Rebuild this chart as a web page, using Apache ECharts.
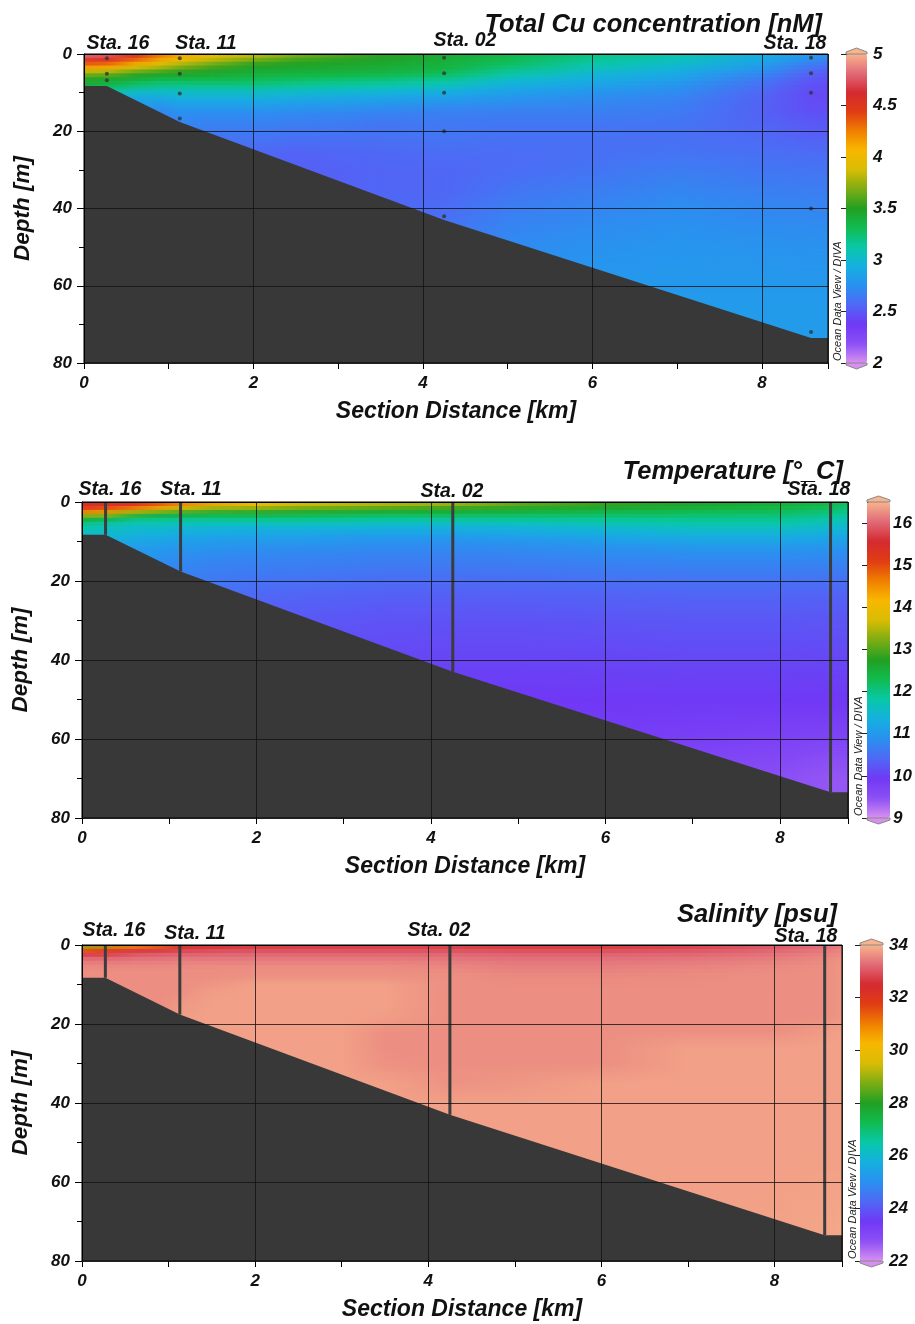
<!DOCTYPE html>
<html>
<head>
<meta charset="utf-8">
<script src="https://cdn.jsdelivr.net/npm/echarts@6/dist/echarts.min.js"></script>
<style>
html,body{margin:0;padding:0;background:#fff;}
#main{width:915px;height:1324px;}
</style>
</head>
<body>
<div id="main"></div>
<script>
// stations along the section
var stationNames = ['Sta. 16', 'Sta. 11', 'Sta. 02', 'Sta. 18'];
var stationKm = [0.27, 1.13, 4.25, 8.58];
var stationBottom = [8.3, 17.6, 43, 73.5];
// sample depths at each station (Cu panel dots)
var sampleDepths = [[1.1, 5.1, 6.8], [1.1, 5.1, 10.2, 16.7], [1, 5, 10, 20, 42], [1, 5, 10, 40, 72]];
// bottom profile
var bottomKm = [0, 0.27, 1.13, 4.25, 8.58, 8.78];
var bottomDepth = [8.3, 8.3, 17.6, 43, 73.5, 73.5];

var gridKm = [0, 0.27, 0.6, 0.9, 1.13, 1.5, 2, 2.5, 3, 3.5, 4.25, 5, 6, 7, 8, 8.58, 8.78];
var gridDepth = [0, 1, 2, 3, 4, 5, 6, 7, 8, 10, 12, 15, 18, 22, 26, 30, 35, 40, 50, 60, 70, 75];

var cuRows = [
    [4.85,4.8,4.5,4.3,4.15,4.0,3.85,3.7,3.6,3.52,3.42,3.35,3.2,3.1,2.92,2.8,2.76],
    [4.7,4.65,4.45,4.2,4.05,3.9,3.75,3.62,3.55,3.5,3.42,3.33,3.18,3.08,2.9,2.76,2.72],
    [4.5,4.45,4.2,4.0,3.9,3.75,3.6,3.52,3.48,3.46,3.4,3.3,3.15,3.04,2.86,2.7,2.66],
    [4.25,4.2,4.0,3.85,3.75,3.62,3.5,3.47,3.45,3.43,3.38,3.26,3.1,3.0,2.82,2.64,2.6],
    [4.0,3.98,3.8,3.7,3.6,3.52,3.45,3.43,3.42,3.4,3.35,3.2,3.05,2.95,2.77,2.58,2.55],
    [3.75,3.72,3.55,3.5,3.5,3.45,3.4,3.38,3.37,3.35,3.3,3.14,3.0,2.9,2.72,2.54,2.51],
    [3.55,3.52,3.45,3.4,3.4,3.38,3.35,3.32,3.3,3.28,3.22,3.07,2.95,2.86,2.67,2.51,2.49],
    [3.45,3.42,3.35,3.3,3.3,3.3,3.28,3.25,3.22,3.2,3.14,3.0,2.9,2.82,2.63,2.49,2.47],
    [3.4,3.35,3.25,3.2,3.2,3.2,3.2,3.17,3.14,3.12,3.06,2.94,2.86,2.78,2.6,2.47,2.46],
    [3.4,3.1,3.0,3.0,3.02,3.02,3.02,3.0,2.98,2.96,2.92,2.84,2.78,2.72,2.56,2.45,2.44],
    [3.4,2.95,2.85,2.85,2.9,2.9,2.9,2.88,2.86,2.84,2.8,2.76,2.72,2.68,2.54,2.45,2.44],
    [3.4,2.95,2.85,2.7,2.75,2.75,2.75,2.73,2.72,2.7,2.68,2.67,2.67,2.65,2.54,2.47,2.47],
    [3.4,2.95,2.85,2.7,2.7,2.68,2.68,2.66,2.65,2.63,2.64,2.63,2.63,2.62,2.55,2.5,2.5],
    [3.4,2.95,2.85,2.7,2.7,2.62,2.62,2.6,2.6,2.6,2.62,2.6,2.6,2.6,2.57,2.54,2.54],
    [3.4,2.95,2.85,2.7,2.7,2.62,2.56,2.54,2.55,2.56,2.58,2.58,2.6,2.62,2.6,2.58,2.58],
    [3.4,2.95,2.85,2.7,2.7,2.62,2.56,2.53,2.54,2.55,2.56,2.58,2.62,2.66,2.63,2.62,2.62],
    [3.4,2.95,2.85,2.7,2.7,2.62,2.56,2.53,2.54,2.55,2.56,2.62,2.66,2.7,2.67,2.66,2.66],
    [3.4,2.95,2.85,2.7,2.7,2.62,2.56,2.53,2.54,2.56,2.58,2.66,2.7,2.74,2.71,2.7,2.7],
    [3.4,2.95,2.85,2.7,2.7,2.62,2.56,2.53,2.54,2.56,2.66,2.72,2.76,2.78,2.77,2.76,2.76],
    [3.4,2.95,2.85,2.7,2.7,2.62,2.56,2.53,2.54,2.56,2.66,2.76,2.8,2.8,2.8,2.8,2.8],
    [3.4,2.95,2.85,2.7,2.7,2.62,2.56,2.53,2.54,2.56,2.66,2.76,2.8,2.82,2.82,2.82,2.82],
    [3.4,2.95,2.85,2.7,2.7,2.62,2.56,2.53,2.54,2.56,2.66,2.76,2.8,2.82,2.82,2.82,2.82]
];

var tempRows = [
    [15.5,15.5,15.4,15.2,14.9,14.5,14.1,13.9,13.7,13.6,13.6,13.2,12.9,12.7,12.5,12.4,12.2],
    [15.4,15.3,15.1,14.6,14.2,13.8,13.7,13.5,13.4,13.3,13.1,12.9,12.75,12.6,12.45,12.3,12.1],
    [15.0,14.8,14.2,13.7,13.4,13.1,13.0,12.9,12.85,12.8,12.7,12.6,12.5,12.4,12.3,12.15,12.0],
    [14.0,13.7,13.0,12.7,12.6,12.5,12.5,12.45,12.4,12.35,12.35,12.3,12.25,12.2,12.15,12.0,11.9],
    [12.8,12.6,12.2,12.1,12.1,12.1,12.1,12.1,12.05,12.0,12.0,12.0,12.0,12.0,12.0,11.85,11.75],
    [12.2,12.0,11.8,11.8,11.8,11.8,11.8,11.8,11.75,11.7,11.7,11.75,11.8,11.85,11.85,11.7,11.6],
    [11.8,11.7,11.6,11.6,11.55,11.5,11.5,11.5,11.5,11.45,11.45,11.5,11.6,11.7,11.7,11.55,11.5],
    [11.7,11.6,11.5,11.5,11.45,11.38,11.35,11.35,11.3,11.3,11.3,11.35,11.45,11.55,11.55,11.45,11.4],
    [11.6,11.5,11.4,11.35,11.3,11.25,11.2,11.2,11.15,11.15,11.15,11.2,11.3,11.4,11.4,11.3,11.3],
    [11.6,11.3,11.2,11.15,11.1,11.05,11.0,11.0,10.95,10.9,10.9,10.95,11.05,11.15,11.15,11.1,11.1],
    [11.6,11.2,11.0,11.0,10.95,10.9,10.85,10.82,10.8,10.78,10.78,10.8,10.88,10.95,10.95,10.9,10.9],
    [11.6,11.2,11.0,10.85,10.8,10.75,10.72,10.7,10.68,10.65,10.65,10.66,10.72,10.76,10.76,10.75,10.75],
    [11.6,11.2,11.0,10.85,10.7,10.65,10.62,10.6,10.57,10.55,10.55,10.56,10.6,10.63,10.63,10.62,10.62],
    [11.6,11.2,11.0,10.85,10.7,10.55,10.45,10.42,10.4,10.37,10.37,10.38,10.4,10.42,10.42,10.4,10.4],
    [11.6,11.2,11.0,10.85,10.7,10.55,10.35,10.32,10.3,10.27,10.27,10.28,10.3,10.32,10.32,10.3,10.3],
    [11.6,11.2,11.0,10.85,10.7,10.55,10.35,10.24,10.22,10.2,10.2,10.2,10.22,10.24,10.24,10.22,10.22],
    [11.6,11.2,11.0,10.85,10.7,10.55,10.35,10.24,10.15,10.13,10.12,10.12,10.14,10.16,10.16,10.15,10.15],
    [11.6,11.2,11.0,10.85,10.7,10.55,10.35,10.24,10.15,10.08,10.05,10.05,10.06,10.08,10.08,10.07,10.07],
    [11.6,11.2,11.0,10.85,10.7,10.55,10.35,10.24,10.15,10.08,9.95,9.93,9.94,9.95,9.95,9.93,9.93],
    [11.6,11.2,11.0,10.85,10.7,10.55,10.35,10.24,10.15,10.08,9.95,9.86,9.84,9.8,9.74,9.7,9.7],
    [11.6,11.2,11.0,10.85,10.7,10.55,10.35,10.24,10.15,10.08,9.95,9.86,9.74,9.6,9.5,9.42,9.42],
    [11.6,11.2,11.0,10.85,10.7,10.55,10.35,10.24,10.15,10.08,9.95,9.86,9.74,9.6,9.5,9.42,9.42]
];

var salRows = [
    [28.5,29.0,30.3,31.0,32.2,32.5,32.6,32.65,32.65,32.7,32.7,32.6,32.6,32.7,33.0,33.25,33.4],
    [31.0,31.5,32.3,32.5,32.7,32.8,32.85,32.88,32.88,32.9,32.9,32.85,32.85,32.95,33.15,33.35,33.5],
    [32.5,32.6,32.9,33.0,33.05,33.1,33.15,33.15,33.15,33.15,33.15,33.1,33.1,33.15,33.3,33.45,33.58],
    [33.1,33.1,33.2,33.25,33.3,33.3,33.32,33.32,33.32,33.32,33.3,33.25,33.25,33.3,33.4,33.52,33.62],
    [33.35,33.35,33.4,33.42,33.45,33.45,33.45,33.45,33.45,33.45,33.42,33.35,33.35,33.4,33.48,33.57,33.7],
    [33.5,33.5,33.52,33.52,33.54,33.55,33.55,33.55,33.55,33.55,33.5,33.42,33.42,33.46,33.54,33.6,33.7],
    [33.58,33.58,33.58,33.58,33.6,33.6,33.6,33.6,33.6,33.6,33.56,33.48,33.48,33.52,33.58,33.62,33.7],
    [33.62,33.62,33.62,33.62,33.62,33.62,33.62,33.62,33.62,33.62,33.6,33.52,33.52,33.56,33.6,33.62,33.7],
    [33.62,33.62,33.62,33.62,33.62,33.62,33.65,33.65,33.65,33.65,33.62,33.56,33.56,33.58,33.62,33.62,33.7],
    [33.62,33.62,33.62,33.62,33.62,33.7,33.8,33.8,33.8,33.8,33.62,33.6,33.6,33.6,33.62,33.62,33.7],
    [33.62,33.62,33.62,33.62,33.62,33.78,33.8,33.8,33.8,33.8,33.62,33.62,33.62,33.62,33.62,33.62,33.7],
    [33.62,33.62,33.62,33.62,33.72,33.8,33.8,33.8,33.8,33.8,33.62,33.62,33.62,33.62,33.62,33.62,33.7],
    [33.62,33.62,33.62,33.62,33.78,33.8,33.8,33.8,33.8,33.78,33.62,33.62,33.62,33.62,33.62,33.62,33.7],
    [33.62,33.62,33.62,33.62,33.78,33.8,33.8,33.8,33.8,33.62,33.62,33.62,33.62,33.62,33.62,33.75,33.8],
    [33.62,33.62,33.62,33.62,33.78,33.8,33.8,33.8,33.8,33.62,33.62,33.62,33.62,33.8,33.8,33.8,33.8],
    [33.62,33.62,33.62,33.62,33.78,33.8,33.8,33.8,33.8,33.65,33.62,33.62,33.62,33.8,33.8,33.8,33.8],
    [33.62,33.62,33.62,33.62,33.78,33.8,33.8,33.8,33.8,33.8,33.66,33.7,33.8,33.8,33.8,33.8,33.8],
    [33.62,33.62,33.62,33.62,33.78,33.8,33.8,33.8,33.8,33.8,33.8,33.8,33.8,33.8,33.8,33.8,33.8],
    [33.62,33.62,33.62,33.62,33.78,33.8,33.8,33.8,33.8,33.8,33.8,33.8,33.8,33.8,33.8,33.8,33.8],
    [33.62,33.62,33.62,33.62,33.78,33.8,33.8,33.8,33.8,33.8,33.8,33.8,33.8,33.8,33.8,33.82,33.82],
    [33.62,33.62,33.62,33.62,33.78,33.8,33.8,33.8,33.8,33.8,33.8,33.8,33.8,33.8,33.82,33.85,33.87],
    [33.62,33.62,33.62,33.62,33.78,33.8,33.8,33.8,33.8,33.8,33.8,33.8,33.8,33.8,33.82,33.85,33.87]
];

// ODV default palette, low -> high
var palette = ['#d890f0','#8c50f5','#7038f5','#4f68f5','#2a90f0','#14b0e0','#08c8a8','#10bc50',
    '#22a022','#7cac14','#d8bc04','#f8b800','#f08000','#e03c14','#d42a30','#e06a78','#f8b48c'];

var FONT = '"Liberation Sans", Arial, sans-serif';
var KM_MAX = 8.78, DEPTH_MAX = 80;
var nCol = gridKm.length, nRow = gridDepth.length;

var panels = [
    {title: 'Total Cu concentration [nM]', rows: cuRows, min: 2, max: 5, step: 0.5,
     left: 84, top: 54, width: 744, height: 309, barLeft: 846, barW: 21, odvX: 838,
     titleX: 822, titleY: 25, dots: true,
     labels: [[118, 44], [206, 44], [465, 41], [795, 44]]},
    {title: 'Temperature [°_C]', rows: tempRows, min: 9, max: 16.5, step: 1,
     left: 82, top: 502, width: 766, height: 316, barLeft: 867, barW: 23, odvX: 859,
     titleX: 843, titleY: 472, dots: false,
     labels: [[110, 490], [191, 490], [452, 492], [819, 490]]},
    {title: 'Salinity [psu]', rows: salRows, min: 22, max: 34, step: 2,
     left: 82, top: 945, width: 760, height: 316, barLeft: 860, barW: 23, odvX: 853,
     titleX: 837, titleY: 915, dots: false,
     labels: [[114, 931], [195, 934], [439, 931], [806, 937]]}
];

var labelStyle = {fontFamily: FONT, fontWeight: 'bold', fontStyle: 'italic', color: '#111'};

function mix(a, b, t) {
    var p = echarts.color.parse(a), q = echarts.color.parse(b);
    return 'rgb(' + Math.round(p[0] + (q[0] - p[0]) * t) + ',' +
        Math.round(p[1] + (q[1] - p[1]) * t) + ',' + Math.round(p[2] + (q[2] - p[2]) * t) + ')';
}

// each node shades the cell to its right/below, blending the four corner colours
function renderField(params, api) {
    var c = api.value(3), r = api.value(4);
    if (c >= nCol - 1 || r >= nRow - 1) return null;
    var i = params.dataIndexInside;
    var tl = api.visual('color'), tr = api.visual('color', i + 1);
    var bl = api.visual('color', i + nCol), br = api.visual('color', i + nCol + 1);
    var a = api.coord([api.value(0), api.value(1)]);
    var b = api.coord([api.value(5), api.value(6)]);
    var w = b[0] - a[0], h = b[1] - a[1];
    var n = Math.max(1, Math.round(h / 3));
    var kids = [];
    for (var k = 0; k < n; k++) {
        var t = (k + 0.5) / n;
        kids.push({type: 'rect',
            shape: {x: a[0], y: a[1] + h * k / n, width: w + 0.8, height: h / n + 0.8},
            style: {fill: {type: 'linear', x: 0, y: 0, x2: 1, y2: 0, global: false,
                colorStops: [{offset: 0, color: mix(tl, bl, t)}, {offset: 1, color: mix(tr, br, t)}]}}});
    }
    return {type: 'group', children: kids};
}

var grids = [], xAxes = [], yAxes = [], series = [], visualMaps = [], graphics = [];

panels.forEach(function (p) {
    var gi = grids.length;
    grids.push({left: p.left, top: p.top, width: p.width, height: p.height});

    var xi = xAxes.length;
    xAxes.push({
        type: 'value', gridIndex: gi, position: 'bottom', min: 0, max: KM_MAX, interval: 2, z: 10,
        axisLine: {lineStyle: {color: '#000', width: 1}},
        axisTick: {show: false},
        axisLabel: Object.assign({fontSize: 17, margin: 12, showMaxLabel: false,
            formatter: function (v) { return v % 2 === 0 ? v : ''; }}, labelStyle),
        splitLine: {show: true, lineStyle: {color: '#111', width: 1, opacity: 0.8}},
        name: 'Section Distance [km]', nameLocation: 'middle', nameGap: 37,
        nameTextStyle: Object.assign({fontSize: 23}, labelStyle)
    });
    xAxes.push({
        type: 'value', gridIndex: gi, position: 'bottom', min: 0, max: KM_MAX, interval: 1,
        axisLine: {show: false}, axisLabel: {show: false}, splitLine: {show: false},
        axisTick: {show: true, length: 6, lineStyle: {color: '#000'}}
    });

    var yi = yAxes.length;
    yAxes.push({
        type: 'value', gridIndex: gi, min: 0, max: DEPTH_MAX, interval: 20, inverse: true, z: 10,
        axisLine: {show: true, lineStyle: {color: '#000', width: 1}},
        axisTick: {show: true, length: 7, lineStyle: {color: '#000'}},
        minorTick: {show: true, splitNumber: 2, length: 5, lineStyle: {color: '#000'}},
        axisLabel: Object.assign({fontSize: 17, margin: 12}, labelStyle),
        splitLine: {show: true, lineStyle: {color: '#111', width: 1, opacity: 0.8}},
        name: 'Depth [m]', nameLocation: 'middle', nameGap: 50,
        nameTextStyle: Object.assign({fontSize: 22.5}, labelStyle)
    });

    // field nodes: [km, depth, value, col, row, next km, next depth]
    var nodes = [];
    p.rows.forEach(function (row, r) {
        row.forEach(function (v, c) {
            nodes.push([gridKm[c], gridDepth[r], v, c, r,
                gridKm[Math.min(c + 1, nCol - 1)], gridDepth[Math.min(r + 1, nRow - 1)]]);
        });
    });
    var fieldIndex = series.length;
    series.push({
        type: 'custom', xAxisIndex: xi, yAxisIndex: yi, clip: true, silent: true, z: 1,
        encode: {x: 0, y: 1}, renderItem: renderField, data: nodes
    });

    // sea floor
    series.push({
        type: 'line', xAxisIndex: xi, yAxisIndex: yi, silent: true, z: 3,
        symbol: 'none', lineStyle: {width: 0},
        areaStyle: {color: '#383838', opacity: 1, origin: 'end'},
        data: bottomKm.map(function (x, k) { return [x, bottomDepth[k]]; })
    });

    if (p.dots) {
        var pts = [];
        sampleDepths.forEach(function (ds, s) {
            ds.forEach(function (d) { pts.push([stationKm[s], d]); });
        });
        series.push({
            type: 'scatter', xAxisIndex: xi, yAxisIndex: yi, silent: true, z: 4,
            symbolSize: 4, itemStyle: {color: '#333'}, data: pts
        });
    } else {
        series.push({
            type: 'custom', xAxisIndex: xi, yAxisIndex: yi, silent: true, z: 4,
            renderItem: function (params, api) {
                var a = api.coord([api.value(0), 0]);
                var b = api.coord([api.value(0), api.value(1)]);
                return {type: 'line', shape: {x1: a[0], y1: a[1], x2: b[0], y2: b[1]},
                    style: {stroke: '#3c3c3c', lineWidth: 3}};
            },
            data: stationKm.map(function (x, k) { return [x, stationBottom[k]]; })
        });
    }

    // colour bar
    var bi = grids.length;
    grids.push({left: p.barLeft, top: p.top, width: p.barW, height: p.height});
    xAxes.push({type: 'value', gridIndex: bi, min: 0, max: 1, show: false});
    yAxes.push({
        type: 'value', gridIndex: bi, min: p.min, max: p.max, interval: p.step, position: 'right',
        axisLine: {show: true, lineStyle: {color: '#888'}},
        axisTick: {show: true, inside: true, length: 5, lineStyle: {color: '#222'}},
        axisLabel: Object.assign({fontSize: 17, margin: 6, showMaxLabel: p.max % p.step === 0}, labelStyle),
        splitLine: {show: false}
    });
    yAxes.push({
        type: 'value', gridIndex: bi, min: p.min, max: p.max, interval: p.step, position: 'left',
        axisLine: {show: true, lineStyle: {color: '#888'}},
        axisTick: {show: true, inside: true, length: 5, lineStyle: {color: '#222'}},
        axisLabel: {show: false}, splitLine: {show: false}
    });
    visualMaps.push({
        type: 'continuous', seriesIndex: fieldIndex, dimension: 2, min: p.min, max: p.max,
        calculable: false, hoverLink: false, show: true, left: p.barLeft, top: p.top,
        itemWidth: p.barW, itemHeight: p.height, padding: 0, text: null,
        inRange: {color: palette}
    });

    var bl = p.barLeft, br = p.barLeft + p.barW, bm = p.barLeft + p.barW / 2;
    var bt = p.top, bb = p.top + p.height;
    graphics.push({type: 'polygon', z: 100, silent: true,
        shape: {points: [[bl, bt], [bl, bt - 2], [bm, bt - 6], [br, bt - 2], [br, bt]]},
        style: {fill: palette[palette.length - 1], stroke: '#888', lineWidth: 1}});
    graphics.push({type: 'polygon', z: 100, silent: true,
        shape: {points: [[bl, bb], [bl, bb + 2], [bm, bb + 6], [br, bb + 2], [br, bb]]},
        style: {fill: palette[0], stroke: '#888', lineWidth: 1}});

    // frame
    graphics.push({type: 'rect', z: 100, silent: true,
        shape: {x: p.left, y: p.top, width: p.width, height: p.height},
        style: {fill: 'none', stroke: '#000', lineWidth: 1}});

    graphics.push({type: 'text', x: p.titleX, y: p.titleY, z: 101, silent: true,
        style: {text: p.title, font: 'italic bold 25.5px ' + FONT, fill: '#111',
            textAlign: 'right', textVerticalAlign: 'middle'}});

    stationNames.forEach(function (nm, k) {
        graphics.push({type: 'text', x: p.labels[k][0], y: p.labels[k][1], z: 102, silent: true,
            style: {text: nm, font: 'italic bold 19.5px ' + FONT, fill: '#111',
                textAlign: 'center', textVerticalAlign: 'middle'}});
    });

    graphics.push({type: 'text', x: p.odvX, y: p.top + p.height - 2, rotation: Math.PI / 2, z: 101, silent: true,
        style: {text: 'Ocean Data View / DIVA', font: 'italic 11px ' + FONT, fill: '#222',
            textAlign: 'left', textVerticalAlign: 'middle'}});
});

var chart = echarts.init(document.getElementById('main'));
chart.setOption({
    animation: false,
    backgroundColor: '#fff',
    grid: grids,
    xAxis: xAxes,
    yAxis: yAxes,
    visualMap: visualMaps,
    series: series,
    graphic: graphics
});
</script>
</body>
</html>
